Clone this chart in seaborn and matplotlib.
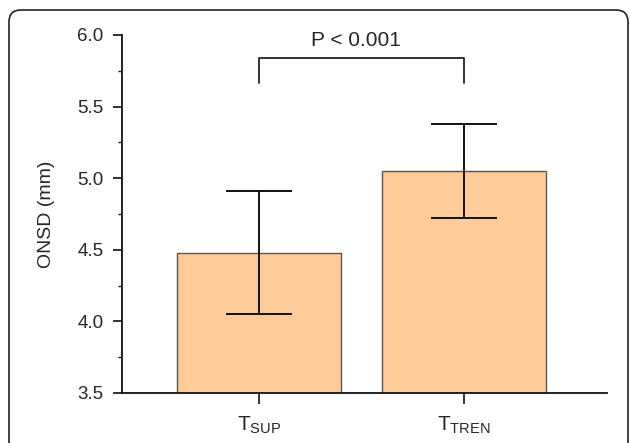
import numpy as np
import pandas as pd
import seaborn as sns
import matplotlib.pyplot as plt
from matplotlib.patches import FancyBboxPatch
from matplotlib.ticker import MultipleLocator

groups = ["SUP", "TREN"]
means = [4.48, 5.05]
sds = [0.43, 0.33]
p_label = "P < 0.001"

sns.set_style("ticks")
plt.rcParams['font.family'] = ['Liberation Sans', 'DejaVu Sans']
plt.rcParams['mathtext.default'] = 'regular'

df = pd.DataFrame({"group": groups, "onsd": means})

fig = plt.figure(figsize=(6.3, 4.43), dpi=100)
ax = fig.add_axes([0.194, 0.113, 0.769, 0.808])

sns.barplot(data=df, x="group", y="onsd", color="#FFCC99", edgecolor="#555555",
            linewidth=1.0, width=0.8, errorbar=None, saturation=1, ax=ax)
pos = np.arange(len(groups))
ax.errorbar(pos, means, yerr=sds, fmt='none', ecolor='#111111',
            elinewidth=1.4, capsize=24, capthick=1.4)

# significance bracket
ax.plot([pos[0], pos[0], pos[1], pos[1]], [5.665, 5.84, 5.84, 5.665],
        color='#222222', lw=1.3, clip_on=False)
ax.text(pos.mean() - 0.03, 5.92, p_label, ha='center', va='baseline', fontsize=15)

ax.set_ylim(3.5, 6.0)
ax.set_xlim(-0.669, 1.697)
ax.yaxis.set_major_locator(MultipleLocator(0.5))
ax.yaxis.set_minor_locator(MultipleLocator(0.25))
ax.set_yticklabels([f"{v:.1f}" for v in ax.get_yticks()])
ax.set_xticks(pos)
ax.set_xticklabels([r'$T_{%s}$' % g for g in groups], fontsize=15)
ax.set_xlabel("")
ax.set_ylabel("ONSD (mm)", fontsize=14, labelpad=16)

sns.despine(ax=ax)
for s in ['left', 'bottom']:
    ax.spines[s].set_linewidth(1.3)
    ax.spines[s].set_color('#111111')
ax.tick_params(axis='y', which='major', length=6.5, width=1.2, pad=7, labelsize=13.5, color='#111111')
ax.tick_params(axis='y', which='minor', length=3, width=1.0, color='#111111')
ax.tick_params(axis='x', which='major', length=8, width=1.2, pad=8, color='#111111')

# rounded frame around the figure
frame = FancyBboxPatch((0.09, -0.3), 6.19, 4.63, boxstyle="round,pad=0,rounding_size=0.12",
                       transform=fig.dpi_scale_trans, fill=False, edgecolor='#222222',
                       linewidth=1.2, clip_on=False)
fig.patches.append(frame)

fig.savefig("out.png", dpi=100)
